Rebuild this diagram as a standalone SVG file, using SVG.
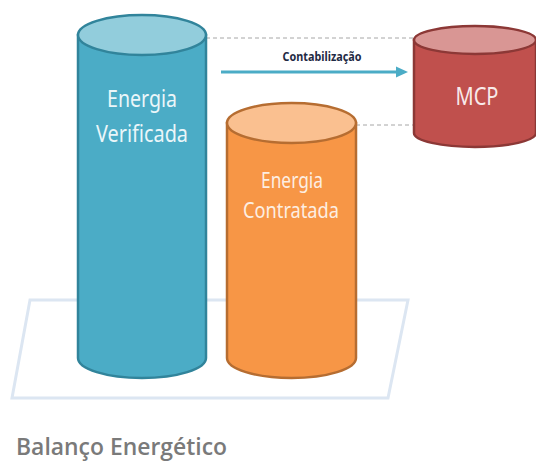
<svg xmlns="http://www.w3.org/2000/svg" width="536" height="462" viewBox="0 0 536 462">
<style>
.lbl{font-family:"Noto Sans","Open Sans",sans-serif;text-anchor:middle}
.blue .body{fill:#4bacc6;stroke:#31849b;stroke-width:2.5}
.blue .top{fill:#92cddc;stroke:#31849b;stroke-width:2.5}
.orange .body{fill:#f79646;stroke:#b66d31;stroke-width:2.5}
.orange .top{fill:#fac090;stroke:#b66d31;stroke-width:2.5}
.red .body{fill:#c0504d;stroke:#8c3836;stroke-width:2.5}
.red .top{fill:#d99694;stroke:#8c3836;stroke-width:2.5}
.dash{stroke:#a6a6a6;stroke-width:1;stroke-dasharray:4 3;fill:none}
</style>
<rect width="536" height="462" fill="#ffffff"/>
<polygon id="platform" points="30,300 408,300 388,398 12,398" fill="#ffffff" stroke="#dce6f2" stroke-width="3"/>
<g id="connectors">
<line class="dash" x1="206" y1="38" x2="414" y2="38"/>
<line class="dash" x1="356" y1="125" x2="414" y2="125"/>
<line x1="221" y1="72" x2="398" y2="72" stroke="#4bacc6" stroke-width="3"/>
<path d="M396,66.5 L408,72 L396,77.5 Z" fill="#4bacc6"/>
<text x="322" y="61" font-family="'Noto Sans','Open Sans',sans-serif" font-size="11.5" font-weight="bold" fill="#1f2a44" text-anchor="middle" textLength="79" lengthAdjust="spacingAndGlyphs">Contabilização</text>
</g>
<g id="energia-verificada" class="blue">
<path class="body" d="M78,35 L78,358 A64,20 0 0 0 206,358 L206,35 Z"/>
<ellipse class="top" cx="142" cy="35" rx="64" ry="20"/>
<text class="lbl" x="142" y="107" font-size="24" fill="#eaf6f9" textLength="70" lengthAdjust="spacingAndGlyphs">Energia</text>
<text class="lbl" x="142" y="142" font-size="24" fill="#eaf6f9" textLength="92" lengthAdjust="spacingAndGlyphs">Verificada</text>
</g>
<g id="energia-contratada" class="orange">
<path class="body" d="M227,123 L227,358 A64.5,20 0 0 0 356,358 L356,123 Z"/>
<ellipse class="top" cx="291.5" cy="123" rx="64.5" ry="20"/>
<text class="lbl" x="292" y="188" font-size="22" fill="#fdeee2" textLength="62" lengthAdjust="spacingAndGlyphs">Energia</text>
<text class="lbl" x="291" y="218" font-size="22" fill="#fdeee2" textLength="96" lengthAdjust="spacingAndGlyphs">Contratada</text>
</g>
<g id="mcp" class="red">
<path class="body" d="M414,40 L414,133 A61,14 0 0 0 536,133 L536,40 Z"/>
<ellipse class="top" cx="475" cy="40" rx="61" ry="14"/>
<text class="lbl" x="477" y="105" font-size="25" fill="#f8eaea" textLength="43" lengthAdjust="spacingAndGlyphs">MCP</text>
</g>
<text id="title" x="16" y="455" font-family="'Open Sans','Noto Sans',sans-serif" font-size="24" font-weight="600" fill="#7a7a7a" textLength="211" lengthAdjust="spacingAndGlyphs">Balanço Energético</text>
</svg>
